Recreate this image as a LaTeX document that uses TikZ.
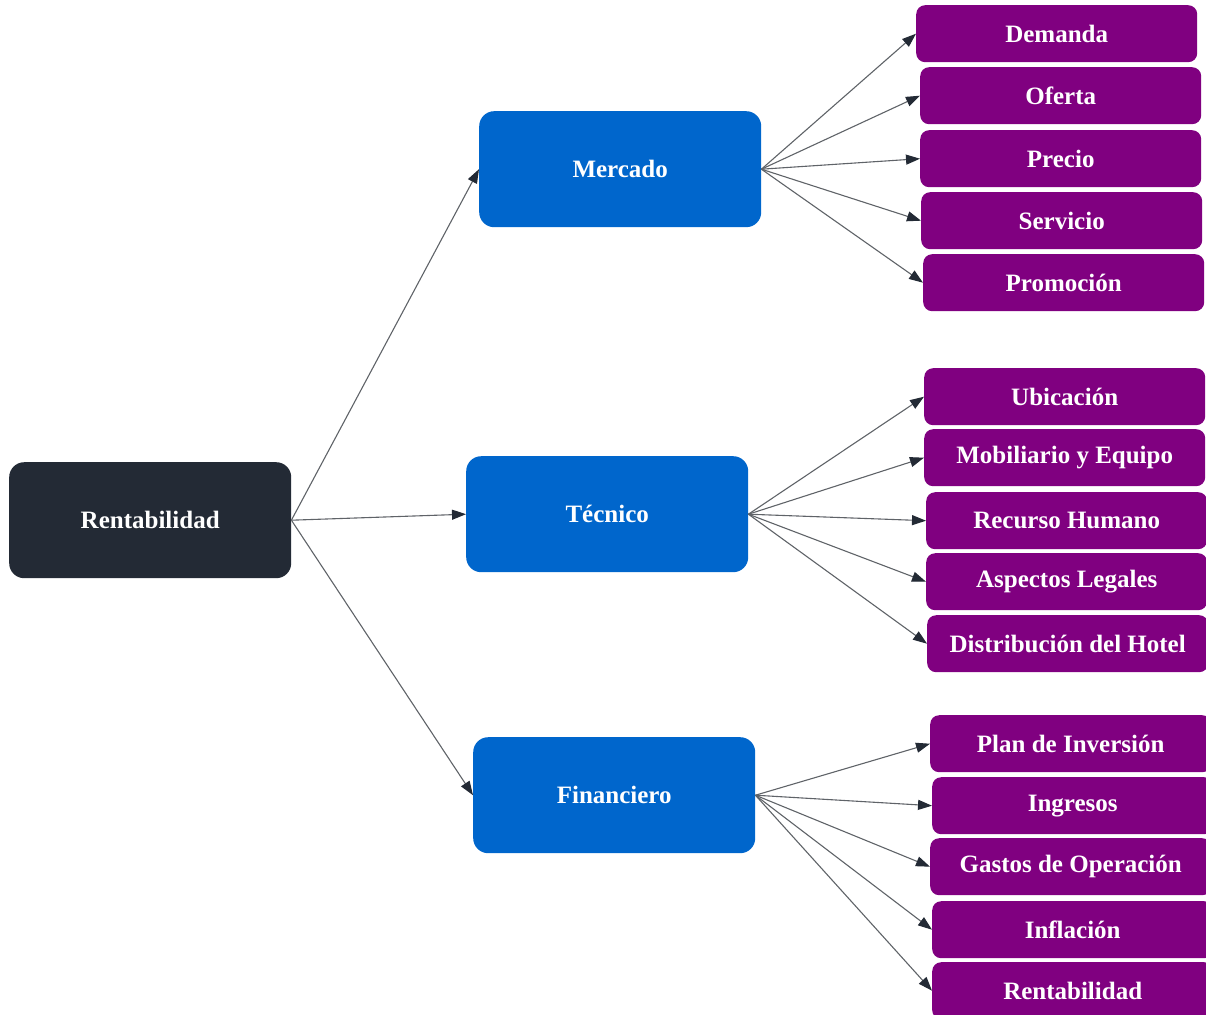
\documentclass[tikz,border=0pt]{standalone}
\usepackage{fontspec}
\setmainfont{Liberation Serif}
\usetikzlibrary{arrows.meta}
\definecolor{rootc}{HTML}{232A35}
\definecolor{bluec}{HTML}{0066CC}
\definecolor{purc}{HTML}{800080}
\definecolor{linec}{HTML}{5F6368}
\tikzset{
  box/.style={rounded corners=15pt, minimum width=282pt, minimum height=116pt, inner sep=0pt, anchor=north west, text=white, font=\fontsize{25}{29}\selectfont\bfseries},
  rootbox/.style={box, fill=rootc},
  catbox/.style={box, fill=bluec},
  leafbox/.style={box, fill=purc, rounded corners=9pt, minimum width=281pt, minimum height=57pt},
  conn/.style={draw=linec, line width=1.1pt, -{Triangle[length=14pt,width=10pt,color=rootc]}}
}
\begin{document}
\begin{tikzpicture}[x=1pt,y=-1pt]
\useasboundingbox (0,0) rectangle (1206,1014);
\begin{scope}
\clip (0,0) rectangle (1206,1014);
\node[rootbox] (root) at (9,462) {Rentabilidad};
\node[catbox] (mer) at (479,111) {Mercado};
\node[catbox] (tec) at (466,456) {Técnico};
\node[catbox] (fin) at (473,737) {Financiero};

\node[leafbox] (m1) at (916,5) {Demanda};
\node[leafbox] (m2) at (920,67) {Oferta};
\node[leafbox] (m3) at (920,130) {Precio};
\node[leafbox] (m4) at (921,192) {Servicio};
\node[leafbox] (m5) at (923,254) {Promoción};

\node[leafbox] (t1) at (924,368) {Ubicación};
\node[leafbox] (t2) at (924,429) {Mobiliario y Equipo};
\node[leafbox] (t3) at (926,492) {Recurso Humano};
\node[leafbox] (t4) at (926,553) {Aspectos Legales};
\node[leafbox] (t5) at (927,615) {Distribución del Hotel};

\node[leafbox] (f1) at (930,715) {Plan de Inversión};
\node[leafbox] (f2) at (932,777) {Ingresos};
\node[leafbox] (f3) at (930,838) {Gastos de Operación};
\node[leafbox] (f4) at (932,901) {Inflación};
\node[leafbox] (f5) at (932,962) {Rentabilidad};

\foreach \c in {mer,tec,fin} \draw[conn] (root.east) -- (\c.west);
\foreach \l in {m1,m2,m3,m4,m5} \draw[conn] (mer.east) -- (\l.west);
\foreach \l in {t1,t2,t3,t4,t5} \draw[conn] (tec.east) -- (\l.west);
\foreach \l in {f1,f2,f3,f4,f5} \draw[conn] (fin.east) -- (\l.west);
\end{scope}
\end{tikzpicture}
\end{document}
